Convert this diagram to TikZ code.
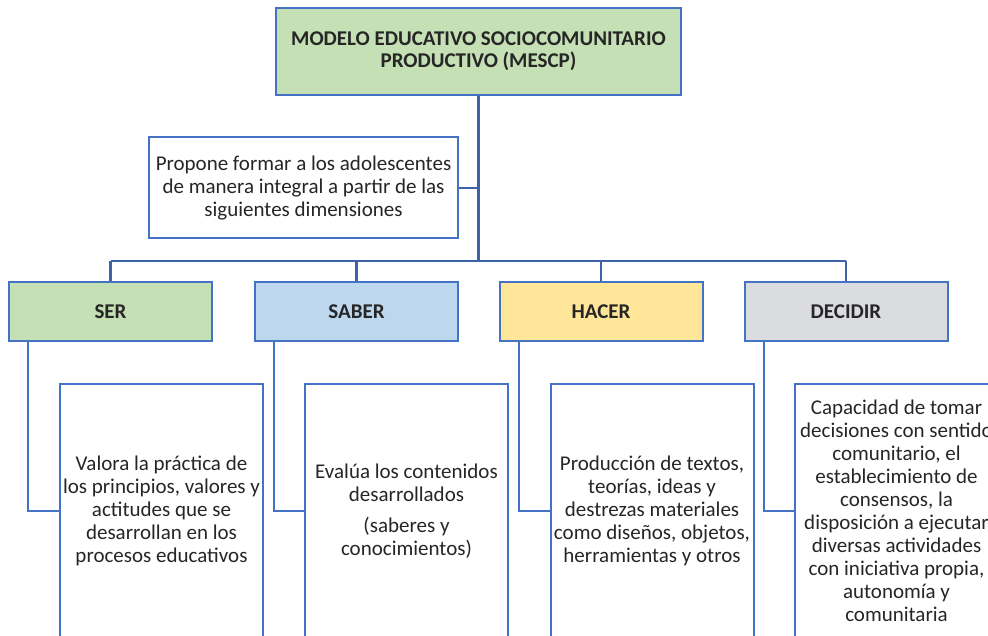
\documentclass[tikz,border=0pt]{standalone}
\usepackage{fontspec}
\setmainfont{Carlito}
\definecolor{bord}{HTML}{4472C4}
\definecolor{conn}{HTML}{3C62A8}
\definecolor{fgreen}{HTML}{C5E0B4}
\definecolor{fblue}{HTML}{BDD7EE}
\definecolor{fyellow}{HTML}{FFE699}
\definecolor{fgray}{HTML}{DBDCDF}
\definecolor{txt}{HTML}{262626}
\tikzset{
  box/.style={draw=bord, line width=2pt, inner sep=0pt, align=center, text=txt,
    font=\fontsize{21}{23}\selectfont},
  dimbox/.style={box, minimum width=203pt, minimum height=59pt,
    font=\fontsize{21}{23}\selectfont\bfseries},
  descbox/.style={box, fill=white, minimum width=203pt, minimum height=254pt},
  plaintext/.style={inner sep=0pt, align=center, text=txt, font=\fontsize{21}{23}\selectfont},
  conline/.style={draw=conn, line width=2.6pt},
  sideline/.style={draw=bord, line width=2pt},
}
\begin{document}
\begin{tikzpicture}[x=1pt,y=-1pt]
\useasboundingbox (0,0) rectangle (988,636);
\clip (0,0) rectangle (988,636);
\fill[white] (0,0) rectangle (988,636);
% top
\node[box, fill=fgreen, minimum width=405pt, minimum height=87pt,
  font=\fontsize{21}{22}\selectfont\bfseries] (top) at (478.5,51.5)
  {MODELO EDUCATIVO SOCIOCOMUNITARIO\\PRODUCTIVO (MESCP)};
\node[box, fill=white, minimum width=309pt, minimum height=101pt] (prop) at (303.5,188)
  {Propone formar a los adolescentes\\de manera integral a partir de las\\siguientes dimensiones};
% dimensions
\node[dimbox, fill=fgreen] (ser) at (110.5,311.5) {SER};
\node[dimbox, fill=fblue] (saber) at (356.5,311.5) {SABER};
\node[dimbox, fill=fyellow] (hacer) at (601,311.5) {HACER};
\node[dimbox, fill=fgray] (decidir) at (846,311.5) {DECIDIR};
% connectors
\coordinate (bus) at (478.5,261);
\draw[conline] (top.south) -- (bus);
\draw[conline] (prop.east) -- (prop.east -| top.south);
\draw[conline] (ser.north |- bus) -- (decidir.north |- bus);
\foreach \n in {ser,saber,hacer,decidir} \draw[conline] (\n.north |- bus) -- (\n.north);
% descriptions
\node[descbox] (serd) at (161.5,511) {};
\node[descbox] (saberd) at (406.5,511) {};
\node[descbox] (hacerd) at (652,511) {};
\node[descbox] (decidird) at (896.5,511) {};
\node[plaintext] (sert) at (serd.center)
  {Valora la práctica de\\los principios, valores y\\actitudes que se\\desarrollan en los\\procesos educativos};
\node[plaintext] (sabert) at (saberd.center)
  {Evalúa los contenidos\\desarrollados\\[8pt](saberes y\\conocimientos)};
\node[plaintext] (hacert) at (hacerd.center)
  {Producción de textos,\\teorías, ideas y\\destrezas materiales\\como diseños, objetos,\\herramientas y otros};
\node[plaintext] (decidirt) at (decidird.center)
  {Capacidad de tomar\\decisiones con sentido\\comunitario, el\\establecimiento de\\consensos, la\\disposición a ejecutar\\diversas actividades\\con iniciativa propia,\\autonomía y\\comunitaria};
\foreach \a/\b in {ser/serd,saber/saberd,hacer/hacerd,decidir/decidird}
  \draw[sideline] ([xshift=20pt]\a.south west) |- (\b.west);
\end{tikzpicture}
\end{document}
